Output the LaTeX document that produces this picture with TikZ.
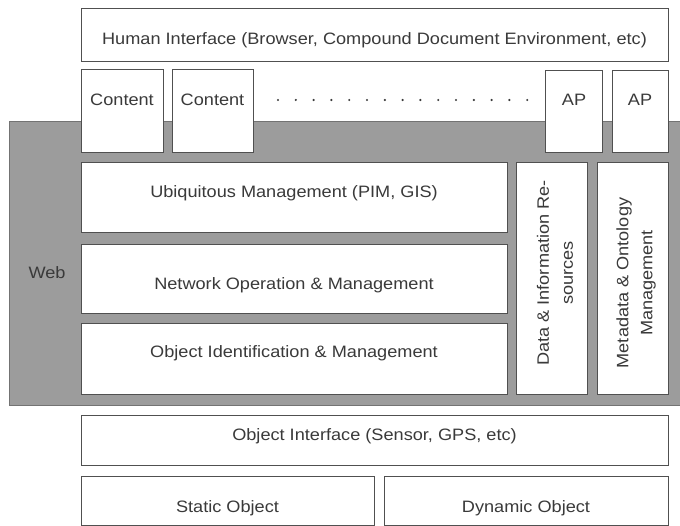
\documentclass[tikz,border=0pt]{standalone}
\usepackage{fontspec}
\setmainfont[FakeStretch=1.1]{Liberation Sans}
\usetikzlibrary{fit}
\definecolor{linegray}{HTML}{505050}
\definecolor{bandgray}{HTML}{9C9C9C}
\definecolor{txtgray}{HTML}{3A3A3A}
\begin{document}
\begin{tikzpicture}[x=1pt,y=-1pt,
  box/.style={draw=linegray, fill=white, line width=0.9pt, inner sep=0pt},
  txt/.style={text=txtgray, inner sep=0pt, font=\fontsize{16.5}{24}\selectfont},
  vtxt/.style={txt, rotate=90, align=center},
  dot/.style={circle, fill=txtgray, inner sep=0pt, minimum size=2.4pt}]
\useasboundingbox (0,0) rectangle (680,526);
% Web band
\node[draw=linegray!80, fill=bandgray, line width=0.9pt, inner sep=0pt, fit={(9,121) (682,405)}] (web) {};
\node[txt] (webt) at (47,273) {Web};
% top
\node[box, fit={(81,8) (668,61)}] (hum) {};
\node[txt] (humt) at (374.5,40) {Human Interface (Browser, Compound Document Environment, etc)};
\node[box, fit={(81,69) (163,152)}] (c1) {};
\node[txt] (c1t) at (122,100) {Content};
\node[box, fit={(172,69) (253,152)}] (c2) {};
\node[txt] (c2t) at (212.5,100) {Content};
\node[box, fit={(545,70) (602,152)}] (ap1) {};
\node[txt] (ap1t) at (574,100) {AP};
\node[box, fit={(612,70) (668,152)}] (ap2) {};
\node[txt] (ap2t) at (640,100) {AP};
\foreach \i in {0,...,14} {
  \node[dot] (d\i) at (278+17.8*\i,100) {};
}
% middle
\node[box, fit={(81,162) (507,232)}] (ubi) {};
\node[txt] (ubit) at (294,193) {Ubiquitous Management (PIM, GIS)};
\node[box, fit={(81,244) (507,313)}] (net) {};
\node[txt] (nett) at (294,285) {Network Operation \& Management};
\node[box, fit={(81,323) (507,394)}] (oid) {};
\node[txt] (oidt) at (294,353) {Object Identification \& Management};
\node[box, fit={(516,162) (587,394)}] (dat) {};
\node[vtxt] (datt) at (555,273) {Data \& Information Re-\\sources};
\node[box, fit={(597,162) (668,394)}] (met) {};
\node[vtxt] (mett) at (636,283) {Metadata \& Ontology\\Management};
% bottom
\node[box, fit={(81,415) (668,465)}] (oif) {};
\node[txt] (oift) at (374.5,436) {Object Interface (Sensor, GPS, etc)};
\node[box, fit={(81,476) (374,525)}] (sta) {};
\node[txt] (stat) at (227.5,508) {Static Object};
\node[box, fit={(384,476) (668,525)}] (dyn) {};
\node[txt] (dynt) at (526,508) {Dynamic Object};
\end{tikzpicture}
\end{document}
